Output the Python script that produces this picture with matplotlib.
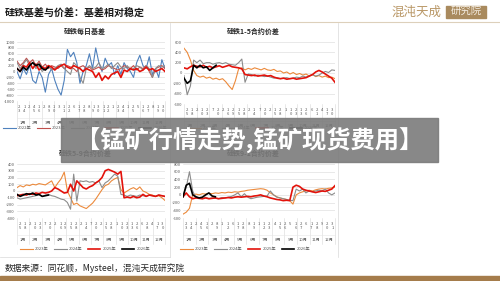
import numpy as np
import matplotlib
matplotlib.use("Agg")
import matplotlib.pyplot as plt
from matplotlib.patches import Rectangle
from matplotlib.lines import Line2D

plt.rcParams['font.family'] = ['Noto Sans CJK SC', 'DejaVu Sans']

W, H = 500, 281

# ---- text ----
page_title = '硅铁基差与价差：基差相对稳定'
banner_text = '【锰矿行情走势,锰矿现货费用】'
source_text = '数据来源：同花顺，Mysteel，混沌天成研究院'
logo_text = '混沌天成'
logo_box_text = '研究院'
months = [f'{m}月' for m in range(1, 13)]

# ---- 硅铁每日基差 ----
tl_title = '硅铁每日基差'
tl_years = ['2022年', '2023年', '2024年', '2025年', '2026年']
tl_yticks = list(range(-1000, 1001, 200))
tl_days = ["23", "14", "2", "45", "16", "2", "89", "10", "3", "11", "22", "6", "17", "28", "8",
           "19", "30", "11", "22", "1", "23", "44", "1", "25", "5", "16", "27", "8", "19", "30"]
tl_2022 = [0, -250, 100, -100, 200, -300, -400, 0, -200, -700, -100, 100, -300, -600, -800, -300,
           750, 500, 650, 300, -400, 0, 200, 600, 100, 800, 300, 0, 450, 200, 300, -100,
           200, -100, 300, 100, 0, -200, 300, 550, 200, 100, 500, -100, 100, -200, 400, 100]
tl_2023 = [350, 200, 300, 450, 300, 400, 200, 350, 150, 250, 100, 200, 150, 100, 200, 100,
           200, 150, 100, 0, 150, 200, 100, 150, 50, 100, 150, 50, 100, 200, 150, 100,
           50, 100, 200, 150, 100, 200, 50, 150, 100, 200, 0, -200, 100, 150, 200, 100]
tl_2024 = [300, 100, 250, 400, 200, 300, 100, 200, 0, 100, 200, 50, 100, 200, 250, 100,
           0, -100, 300, 200, -200, -400, 100, 200, 100, 150, 300, 100, 150, 250, 100, 200,
           300, 150, 100, 200, 50, 100, 200, 150, 50, 200, 100, -200, 100, 200, 150, 200]
tl_2025 = [100, 0, 200, 150, 300, 100, 250, 50, 150, 100, 200, 150, 50, 150, 200, 250,
           150, 100, 200, 150, 100, 0, 100, 50, 0, -200, -50, -300, -150, -250, -100, -50,
           0, -200, 50, 0, 100, 50, 100, 0, 50, 150, 50, 100, 0, 50, 100, 0]
tl_2026 = [100, 0, 150, 50, 200, 300, 200, 250, 100, 50, 150]

# ---- 硅铁1-5合约价差 ----
tr_title = '硅铁1-5合约价差'
tr_yticks = list(range(-600, 601, 200))
tr_days = ["25", "18", "2", "10", "23", "7", "20", "2", "16", "29", "15", "28", "2", "14", "7",
           "20", "2", "15", "28", "1", "10", "23", "13", "26", "6", "21", "4", "17", "30"]
tr_2023 = [480, 400, 250, 50, -50, -80, -60, -100, -80, -120, -100, -130, -110, -170, -250, -320,
           -150, 80, 100, 60, 90, 70, 100, 80, 60, 90, 60, 50, 70, 30, 40, 0,
           20, -20, 10, -30, -10, -40, -20, -60, -30, -70, -50, -80, -60, -90, -80, -110]
tr_2024 = [-50, -420, -250, 250, 200, 250, 180, 200, 200, 170, 190, 200, 180, 200, 170, 160,
           150, 200, 270, -180, -20, -30, -60, -40, -50, -70, -60, -80, -100, -90, -110, -100,
           -90, -110, -100, -80, -90, -60, -80, -50, -30, -60, -40, 0, 30, 10, 60, 50]
tr_2025 = [100, 80, 120, 150, 130, 120, 150, 110, 130, 100, 120, 140, 110, 130, 150, 120,
           110, 100, 80, -30, -40, -50, -40, -60, -50, -40, -60, -50, -80, -100, -110, -100,
           -120, -110, -100, -120, -110, -100, -90, -60, -30, 20, 50, 20, -20, -60, -100, -180]
tr_2026 = [-100, -200, -150, 150, 100, 150, 100, 120, 50, 100, 150]

# ---- 硅铁5-9合约价差 ----
bl_title = '硅铁5-9合约价差'
bl_yticks = list(range(-400, 401, 100))
bl_days = ["25", "18", "2", "10", "23", "7", "20", "2", "16", "29", "15", "28", "2", "14", "7",
           "20", "2", "15", "28", "1", "10", "23", "13", "26", "6", "28", "4", "17", "30"]
bl_2023 = [50, 80, 60, 90, 80, 100, 90, 110, 100, 90, 120, 150, 50, 120, 180, 280,
           0, -100, -200, -180, -220, -240, -260, -220, -180, -120, -50, 20, 80, 100, 150, 180,
           200, 20, -30, 0, 30, 50, 20, 60, 0, -20, -50, -60, -80, -70, -100, -140]
bl_2024 = [-100, -120, -110, -100, -90, -80, -70, -50, -80, -60, -50, -70, -80, -100, -120, -130,
           -170, -270, 250, -150, 150, 140, 150, 130, 140, 120, 150, 50, 120, 150, 200, 250,
           220, -50, -60, -80, -60, -70, -80, -60, -70, -80, -60, -70, -80, -60, -70, -80]
bl_2025 = [-70, -60, -50, -60, -40, -50, -30, -40, -20, -30, -20, 0, 50, 30, 0, -30,
           -20, 100, 0, 150, 100, 50, 30, 60, 80, 120, 150, 200, 300, 320, 300, 280,
           250, 290, -100, -90, -100, -80, -100, -90, -50, -80, -60, -70, -80, -60, -70, -80]
bl_2026 = [-50, -80, -60, -40, -50, -30, -60, -50, -80, -70, -60]

# ---- 硅铁9-1合约价差 ----
br_title = '硅铁9-1合约价差'
br_yticks = list(range(-600, 801, 200))
br_days = ["23", "14", "2", "45", "16", "2", "89", "1", "12", "6", "17", "28", "8", "19", "1",
           "12", "23", "4", "15", "26", "5", "16", "27", "6", "17", "28", "9", "20", "31"]
br_2023 = [-500, -450, -350, 0, 20, 0, 30, 20, 40, 30, 50, 40, 60, 50, 70, 60,
           80, 70, 90, 100, 120, 130, 140, 150, 160, 150, 120, 50, 0, -50, -80, -100,
           -120, -150, -240, 0, 50, 80, 100, 120, 100, 130, 150, 160, 150, 170, 180, 210]
br_2024 = [-50, 200, 600, 100, -80, -80, -100, -60, -100, -80, -90, -100, -70, -80, -60, -40,
           0, 50, -50, 30, -60, -100, -80, -60, -50, -40, -30, 100, 0, -60, -80, -100,
           -120, -140, -150, 150, 100, 150, 50, 100, 80, 100, 120, 100, 150, 50, 0, 50]
br_2025 = [-50, 50, -50, -100, -80, -90, -100, -80, -100, -90, -80, -100, -90, -80, -70, -80,
           -60, -50, -60, -50, -40, -50, -30, -20, 0, -30, -50, -80, -100, -120, -130, -150,
           -140, -150, 200, 250, 220, 150, 120, 100, 80, 60, 80, 100, 90, 120, 150, 240]
br_2026 = [-50, 250, 300, 0, -50, -80, -60, 0, 50, -30, -50]

years4 = ['2023年', '2024年', '2025年', '2026年']
c_blue, c_mred, c_gray, c_red, c_black, c_orange = '#4f81bd', '#c0504d', '#8c8c8c', '#e3120b', '#000000', '#ec8a3c'

fig = plt.figure(figsize=(5, 2.81), dpi=100)


def fx(x):
    return x / W


def fy(y):
    return 1 - y / H


def make_axes(left, top, right, bottom):
    return fig.add_axes([fx(left), fy(bottom), (right - left) / W, (bottom - top) / H])


def dress(ax, h, yticks, days, n):
    ax.set_xlim(0, n - 1)
    ax.set_ylim(yticks[0], yticks[-1])
    ax.set_yticks(yticks)
    ax.set_yticklabels([str(v) for v in yticks], fontsize=3, color='#595959')
    ax.tick_params(axis='y', length=0, pad=1.5)
    ax.set_xticks([])
    ax.grid(axis='y', color='#d9d9d9', lw=0.4)
    ax.set_axisbelow(True)
    for s in ax.spines.values():
        s.set_visible(False)
    t = ax.transAxes
    for i, d in enumerate(days):
        ax.text((i + 0.5) / len(days), -4 / h, '\n'.join(d), transform=t, ha='center', va='top',
                fontsize=3, color='#595959', linespacing=1.15)
    for k, m in enumerate(months):
        ax.text((k + 0.5) / 12, -22 / h, m, transform=t, ha='center', va='center',
                fontsize=3, color='#595959')
    for k in range(13):
        ax.plot([k / 12, k / 12], [0, -26 / h], transform=t, color='#d9d9d9', lw=0.4, clip_on=False)
    ax.plot([0, 1], [-17 / h, -17 / h], transform=t, color='#e6e6e6', lw=0.4, clip_on=False)


def legend(handles, labels, cx, cy):
    fig.legend(handles, labels, loc='center', bbox_to_anchor=(fx(cx), fy(cy)), ncol=len(labels),
               fontsize=3, frameon=False, handlelength=3.0, columnspacing=1.4, handletextpad=0.5,
               labelcolor='#595959')


# top-left
ax = make_axes(17, 42, 165, 101)
ax.plot(tl_2022, color=c_blue, lw=0.8)
ax.plot(tl_2023, color=c_mred, lw=0.8)
ax.plot(tl_2024, color=c_gray, lw=0.8)
ax.plot(tl_2025, color=c_red, lw=1.2)
ax.plot(tl_2026, color=c_black, lw=1.2)
dress(ax, 59, tl_yticks, tl_days, len(tl_2022))
legend([Line2D([], [], color=c, lw=w) for c, w in
        [(c_blue, 0.8), (c_mred, 0.8), (c_gray, 0.8), (c_red, 1.2), (c_black, 1.2)]],
       tl_years, 85, 128)

# top-right
ax = make_axes(184, 42, 335, 104)
ax.plot(tr_2023, color=c_orange, lw=0.8)
ax.plot(tr_2024, color=c_gray, lw=0.8)
ax.plot(tr_2025, color=c_red, lw=1.2)
ax.plot(tr_2026, color=c_black, lw=1.2)
dress(ax, 62, tr_yticks, tr_days, len(tr_2023))

# bottom-left
ax = make_axes(17, 164, 165, 218)
ax.plot(bl_2023, color=c_orange, lw=0.8)
ax.plot(bl_2024, color=c_gray, lw=0.8)
ax.plot(bl_2025, color=c_red, lw=1.2)
ax.plot(bl_2026, color=c_black, lw=1.2)
dress(ax, 54, bl_yticks, bl_days, len(bl_2023))

# bottom-right
ax = make_axes(183, 164, 335, 218)
ax.plot(br_2023, color=c_orange, lw=0.8)
ax.plot(br_2024, color=c_gray, lw=0.8)
ax.plot(br_2025, color=c_red, lw=1.2)
ax.plot(br_2026, color=c_black, lw=1.2)
dress(ax, 54, br_yticks, br_days, len(br_2023))

h4 = [Line2D([], [], color=c, lw=w) for c, w in
      [(c_orange, 0.8), (c_gray, 0.8), (c_red, 1.2), (c_black, 1.2)]]
legend(h4, years4, 253, 128)
legend(h4, years4, 85, 249)
legend(h4, years4, 245, 249)

# chart titles
for title, cx, cy in [(tl_title, 85, 31), (tr_title, 253, 31), (bl_title, 85, 153), (br_title, 253, 153)]:
    fig.text(fx(cx), fy(cy), title, ha='center', va='center', fontsize=5, color='#262626',
             fontweight='bold')

# panel frames
frame = dict(color='#d9d9d9', lw=0.5, transform=fig.transFigure)
fig.lines.append(Line2D([fx(170), fx(170)], [fy(23), fy(257)], **frame))
fig.lines.append(Line2D([fx(338), fx(338)], [fy(23), fy(257)], **frame))
fig.lines.append(Line2D([fx(0), fx(170)], [fy(257), fy(257)], **frame))

# header
fig.text(fx(5), fy(14), page_title, ha='left', va='center', fontsize=7.2, color='#1a1a1a',
         fontweight='bold')
fig.lines.append(Line2D([0, 1], [fy(21.5), fy(21.5)], color='#ddd0bb', lw=0.8,
                        transform=fig.transFigure))
fig.text(fx(391), fy(12), logo_text, ha='left', va='center', fontsize=9, color='#b99766')
fig.patches.append(Rectangle((fx(446), fy(18)), 40 / W, 12 / H, color='#a98a5e',
                             transform=fig.transFigure))
fig.text(fx(466), fy(12), logo_box_text, ha='center', va='center', fontsize=7.5, color='#f4ede2')

# footer
fig.text(fx(5), fy(268), source_text, ha='left', va='center', fontsize=6.3, color='#262626')
fig.patches.append(Rectangle((0, 0), 1, 5 / H, color='#a57c4b', transform=fig.transFigure))

# banner overlay
fig.patches.append(Rectangle((fx(61), fy(162)), 377 / W, 44 / H, color='#7b7b7b', alpha=0.9,
                             transform=fig.transFigure, zorder=10))
fig.text(fx(250), fy(140), banner_text, ha='center', va='center', fontsize=17.5, color='white',
         fontweight='bold', zorder=11)

fig.savefig('out.png', dpi=100)
